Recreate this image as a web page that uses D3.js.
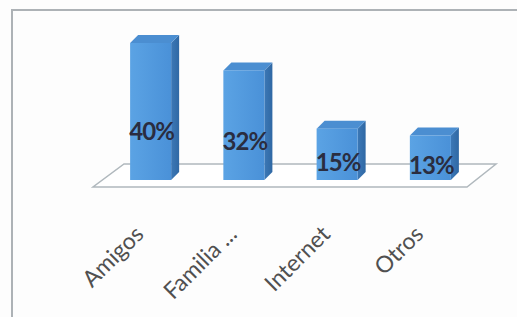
<!DOCTYPE html>
<html>
<head>
<meta charset="utf-8">
<script src="https://cdn.jsdelivr.net/npm/d3@7"></script>
<style>
   body { margin: 0; background: #fdfdfd; }
   svg { display: block; }
   .cat text { font-family: Lato, "Open Sans", sans-serif; font-size: 23px; fill: #505050; }
   .val { font-family: Lato, "Open Sans", sans-serif; font-size: 24px; font-weight: bold; fill: #2a2d40; letter-spacing: -1px; }
</style>
</head>
<body>
<div id="chart"></div>
<script>
// data
const categories = ["Amigos", "Familia ...", "Internet", "Otros"];
const values = [40, 32, 15, 13];
const valueLabels = ["40%", "32%", "15%", "13%"];

// sizes
const wide = 517;
const high = 317;
const base = 180; // bottom of the bars
const depth = 8; // 3d offset

var svg = d3
   .select("#chart")
   .append("svg")
   .attr("width", wide)
   .attr("height", high);

// frame (only top and left show)
svg.append("path")
   .attr("d", "M12," + high + " L12,10 L" + wide + ",10")
   .attr("fill", "none")
   .attr("stroke", "#adb2b6")
   .attr("stroke-width", 2);

// gradients
const defs = svg.append("defs");
function grad(id, c1, c2) {
   const g = defs.append("linearGradient").attr("id", id).attr("x1", 0).attr("x2", 1).attr("y1", 0).attr("y2", 0);
   g.append("stop").attr("offset", "0%").attr("stop-color", c1);
   g.append("stop").attr("offset", "100%").attr("stop-color", c2);
}
grad("front", "#5ba3e4", "#4a91d8");
grad("side", "#3c78b6", "#2f68a4");

// scales
const xScale = d3
   .scaleBand()
   .domain(categories)
   .range([104, 477])
   .paddingInner(0.56)
   .paddingOuter(0.28);

const yScale = d3.scaleLinear().domain([0, 40]).range([base, 43]);

const bw = xScale.bandwidth();
const [r0, r1] = xScale.range();

// floor
const floor = [
   [r0 - 11, base + 7],
   [r1 - 10, base + 7],
   [r1 + 19, base - 16],
   [r0 + 20, base - 16]
];
svg.append("polygon")
   .attr("points", floor.map((p) => p.join(",")).join(" "))
   .attr("fill", "#ffffff")
   .attr("stroke", "#b0b8bd")
   .attr("stroke-width", 1.5);

// bars
const bars = svg.selectAll("g.bar").data(values).enter().append("g").attr("class", "bar");

bars.append("polygon")
   .attr("points", (d, i) => {
      const x = xScale(categories[i]) + bw;
      const y = yScale(d);
      return [[x, y], [x + depth, y - depth], [x + depth, base - depth], [x, base]].map((p) => p.join(",")).join(" ");
   })
   .attr("fill", "url(#side)");

bars.append("polygon")
   .attr("points", (d, i) => {
      const x = xScale(categories[i]);
      const y = yScale(d);
      return [[x, y], [x + depth, y - depth], [x + bw + depth, y - depth], [x + bw, y]].map((p) => p.join(",")).join(" ");
   })
   .attr("fill", "#4b8ed1");

bars.append("rect")
   .attr("x", (d, i) => xScale(categories[i]))
   .attr("y", (d) => yScale(d))
   .attr("width", bw)
   .attr("height", (d) => base - yScale(d))
   .attr("fill", "url(#front)");

// value labels
svg.selectAll("text.val")
   .data(values)
   .enter()
   .append("text")
   .attr("class", "val")
   .attr("x", (d, i) => xScale(categories[i]) + bw / 2 + 1)
   .attr("y", (d) => yScale(d * 0.37) + 2)
   .attr("dy", "0.35em")
   .attr("text-anchor", "middle")
   .text((d, i) => valueLabels[i]);

// category axis
const xAxis = d3.axisBottom(xScale).tickSize(0).tickPadding(0);
svg.append("g")
   .attr("class", "cat")
   .attr("transform", "translate(0, 230)")
   .call(xAxis)
   .call((g) => g.select(".domain").remove())
   .selectAll("text")
   .attr("x", -8)
   .attr("y", 0)
   .attr("dy", 0)
   .attr("text-anchor", "end")
   .attr("transform", "rotate(-45)");
</script>
</body>
</html>
